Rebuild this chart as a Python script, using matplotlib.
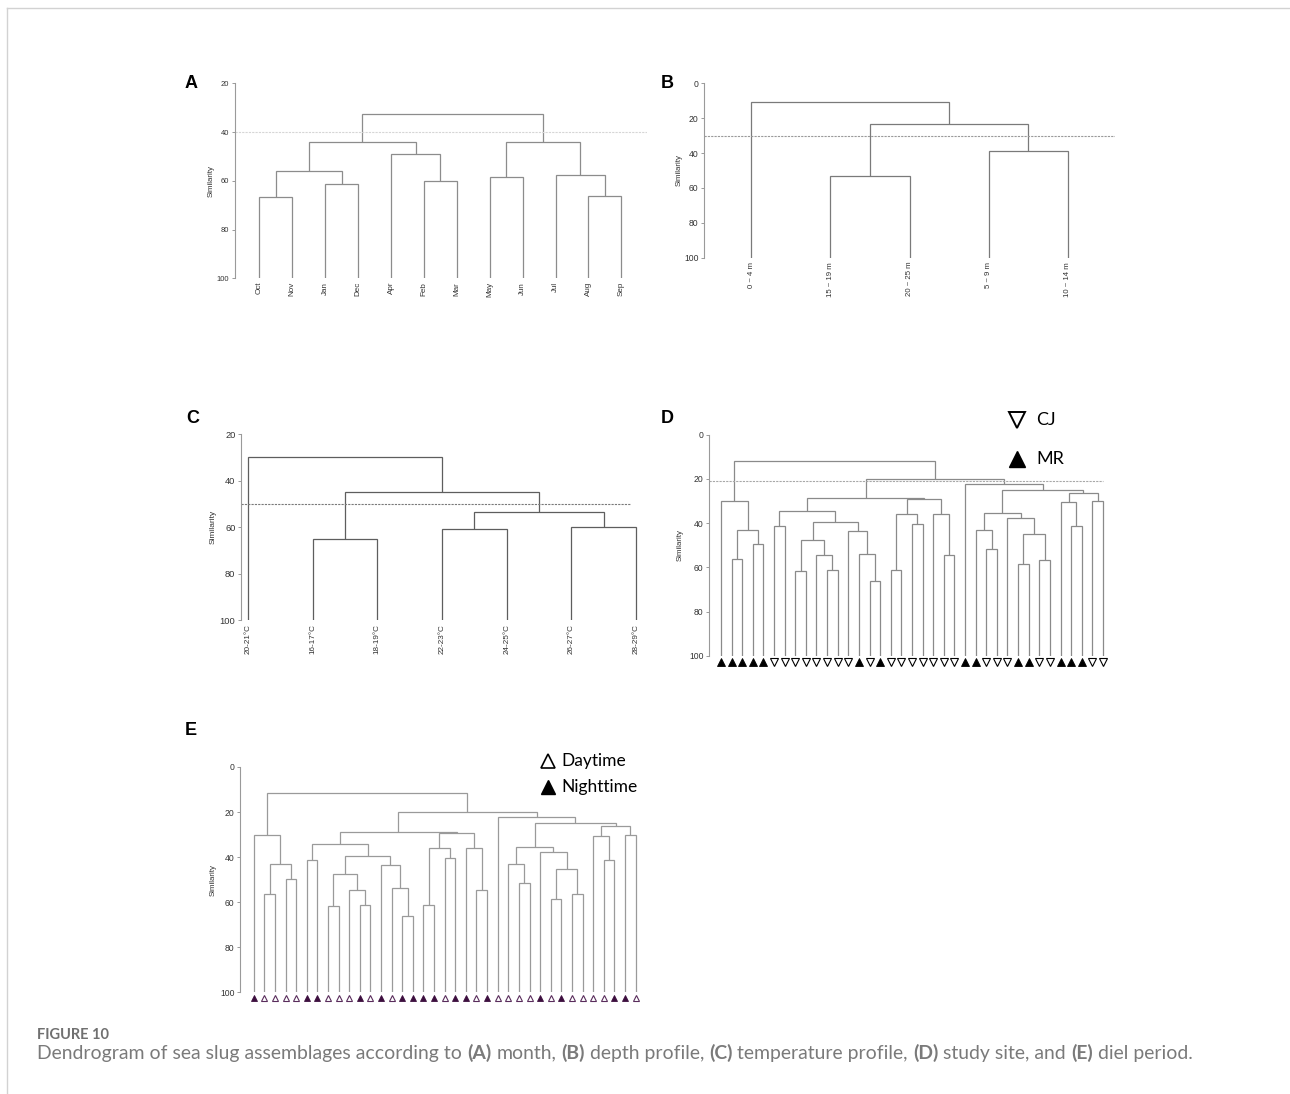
import matplotlib
matplotlib.use('Agg')
import matplotlib.pyplot as plt
from matplotlib.lines import Line2D

plt.rcParams['font.family'] = ['Liberation Sans', 'DejaVu Sans']

# ---------------- data ----------------
# Panel A: month
month_labels = ['Oct', 'Nov', 'Jan', 'Dec', 'Apr', 'Feb', 'Mar', 'May', 'Jun', 'Jul', 'Aug', 'Sep']
# merges: (child a, child b, similarity); ids >= n refer to earlier merges
month_merges = [(0, 1, 66.6), (2, 3, 61.2), (12, 13, 55.8), (5, 6, 59.9), (4, 15, 48.9),
                (14, 16, 44.1), (7, 8, 58.3), (10, 11, 66.1), (9, 19, 57.5), (18, 20, 44.1),
                (17, 21, 32.6)]
month_cut = 40

# Panel B: depth
depth_labels = ['0 ~ 4 m', '15 ~ 19 m', '20 ~ 25 m', '5 ~ 9 m', '10 ~ 14 m']
depth_merges = [(1, 2, 53.3), (3, 4, 38.6), (5, 6, 23.5), (0, 7, 10.5)]
depth_cut = 30

# Panel C: temperature
temp_labels = ['20-21°C', '16-17°C', '18-19°C', '22-23°C', '24-25°C', '26-27°C', '28-29°C']
temp_merges = [(1, 2, 65.2), (3, 4, 60.6), (5, 6, 60.1), (8, 9, 53.3), (7, 10, 44.9), (0, 11, 30.0)]
temp_cut = 50

# Panels D & E: samples (same tree)
sample_merges = [(1, 2, 56.2), (3, 4, 49.6), (37, 38, 42.9), (0, 39, 30.2), (5, 6, 41.4),
                 (7, 8, 61.5), (10, 11, 61.4), (9, 43, 54.4), (42, 44, 47.6), (14, 15, 66.1),
                 (13, 46, 53.8), (12, 47, 43.6), (45, 48, 39.3), (41, 49, 34.3), (16, 17, 61.4),
                 (18, 19, 40.4), (51, 52, 35.9), (21, 22, 54.4), (20, 54, 35.8), (53, 55, 29.1),
                 (50, 56, 28.7), (25, 26, 51.6), (24, 58, 42.9), (28, 29, 58.4), (30, 31, 56.5),
                 (60, 61, 45.1), (27, 62, 37.6), (59, 63, 35.4), (33, 34, 41.3), (32, 65, 30.5),
                 (35, 36, 30.2), (66, 67, 26.3), (64, 68, 24.9), (23, 69, 22.3), (57, 70, 20.1),
                 (40, 71, 11.7)]
site_groups = (['MR'] * 5 + ['CJ'] * 8 + ['MR', 'CJ', 'MR'] + ['CJ'] * 7 + ['MR'] * 2 +
               ['CJ'] * 3 + ['MR'] * 2 + ['CJ'] * 2 + ['MR'] * 3 + ['CJ'] * 2)
site_cut = 21.1
diel_groups = (['N'] + ['D'] * 4 + ['N'] * 2 + ['D'] * 3 + ['N', 'D', 'N', 'D'] + ['N'] * 4 +
               ['D'] + ['N'] * 2 + ['D', 'N'] + ['D'] * 4 + ['N', 'D', 'N'] + ['D'] * 4 +
               ['N'] * 2 + ['D'])

# ---------------- figure ----------------
W, H = 1290, 1094
fig = plt.figure(figsize=(W / 100, H / 100), dpi=100)


def make_ax(x0, x1, ytop, ybot):
    ax = fig.add_axes([x0 / W, 1 - ybot / H, (x1 - x0) / W, (ybot - ytop) / H])
    ax.patch.set_visible(False)
    return ax


def dendro(ax, n, merges, color, lw=0.9):
    pos = [(i, 100.0) for i in range(n)]
    for a, b, h in merges:
        (xa, ya), (xb, yb) = pos[a], pos[b]
        ax.plot([xa, xa, xb, xb], [ya, h, h, yb], color=color, lw=lw,
                solid_joinstyle='miter', solid_capstyle='butt')
        pos.append(((xa + xb) / 2, h))


def style(ax, ytop_val, xlim, tick_fs, ylab_x, x0, x1, ylab_fs=5.7):
    ax.set_ylim(100, ytop_val)
    ax.set_xlim(*xlim)
    for s in ['top', 'right', 'bottom']:
        ax.spines[s].set_visible(False)
    ax.spines['left'].set_color('#9a9a9a')
    ax.spines['left'].set_linewidth(0.8)
    ax.set_yticks(list(range(ytop_val, 101, 20)))
    ax.tick_params(axis='y', length=2.5, width=0.7, color='#9a9a9a',
                   labelsize=tick_fs, labelcolor='#333333', pad=1.5)
    ax.text((ylab_x - x0) / (x1 - x0), 0.5, 'Similarity', transform=ax.transAxes,
            rotation=90, ha='center', va='center', fontsize=ylab_fs, color='#333333')


def leaf_labels(ax, labels, fs, pad):
    ax.set_xticks(range(len(labels)))
    ax.set_xticklabels(labels, rotation=90, fontsize=fs, color='#333333')
    ax.tick_params(axis='x', length=0, pad=pad)


# Panel A
axA = make_ax(235, 646.7, 83.3, 278.3)
dendro(axA, len(month_labels), month_merges, '#8c8c8c')
style(axA, 20, (-0.74, 11.77), 5.5, 210.7, 235, 646.7)
leaf_labels(axA, month_labels, 5.8, 2.5)
axA.axhline(month_cut, color='#d6d6d6', lw=0.8, ls=(0, (2, 1)))

# Panel B
axB = make_ax(704, 1115, 83.3, 257.7)
dendro(axB, len(depth_labels), depth_merges, '#7a7a7a')
style(axB, 0, (-0.6, 4.6), 6.2, 679, 704, 1115)
leaf_labels(axB, depth_labels, 5.6, 3)
axB.axhline(depth_cut, color='#9a9a9a', lw=0.8, ls=(0, (2, 1)))

# Panel C
axC = make_ax(241, 645, 434, 620.3)
dendro(axC, len(temp_labels), temp_merges, '#5e5e5e')
style(axC, 20, (-0.11, 6.14), 6.7, 213.3, 241, 645, ylab_fs=6.0)
leaf_labels(axC, temp_labels, 5.9, 2.5)
axC.hlines(temp_cut, -0.11, 5.93, color='#7a7a7a', lw=0.8, ls=(0, (2, 1)))

# Panel D
axD = make_ax(709, 1110, 434.7, 655.7)
n_s = len(site_groups)
dendro(axD, n_s, sample_merges, '#8a8a8a')
style(axD, 0, (-1.13, 36.66), 6.2, 680, 709, 1110)
axD.set_xticks([])
axD.hlines(site_cut, -1.13, 35.98, color='#a8a8a8', lw=0.8, ls=(0, (2, 1)))
for i, g in enumerate(site_groups):
    if g == 'MR':
        axD.plot(i, 102.8, marker='^', ms=5.2, mfc='black', mec='black', mew=0.6, clip_on=False)
    else:
        axD.plot(i, 102.8, marker='v', ms=5.2, mfc='white', mec='black', mew=0.8, clip_on=False)

# Panel E
axE = make_ax(240.3, 645, 767, 992.3)
dendro(axE, len(diel_groups), sample_merges, '#9a9a9a')
style(axE, 0, (-1.26, 36.88), 6.2, 213, 240.3, 645)
axE.set_xticks([])
purple = '#3d0f3f'
for i, g in enumerate(diel_groups):
    if g == 'N':
        axE.plot(i, 102.7, marker='^', ms=4.6, mfc=purple, mec=purple, mew=0.6, clip_on=False)
    else:
        axE.plot(i, 102.7, marker='^', ms=4.6, mfc='white', mec='#5a2d5c', mew=0.8, clip_on=False)

# Panel letters
for letter, (px, py) in zip('ABCDE', [(190.7, 84), (667, 84), (193, 419), (667, 419), (190.7, 730.7)]):
    fig.text(px / W, 1 - py / H, letter, fontsize=13, weight='bold', ha='center', va='center',
             color='black')


# Legends
def fig_marker(px, py, marker, ms, fc, ec, mew):
    fig.add_artist(Line2D([px / W], [1 - py / H], transform=fig.transFigure, marker=marker,
                          ms=ms, mfc=fc, mec=ec, mew=mew, ls='none'))


fig_marker(1016.7, 420, 'v', 12, 'white', 'black', 1.4)
fig.text(1036 / W, 1 - 420 / H, 'CJ', fontsize=13, family='Lato', va='center', color='black')
fig_marker(1016.7, 459, '^', 12, 'black', 'black', 1.0)
fig.text(1036 / W, 1 - 459 / H, 'MR', fontsize=13, family='Lato', va='center', color='black')

fig_marker(548.3, 761, '^', 9.5, 'white', 'black', 1.2)
fig.text(561.7 / W, 1 - 761 / H, 'Daytime', fontsize=12.5, family='Lato', va='center', color='black')
fig_marker(548.3, 787, '^', 9.5, 'black', 'black', 1.0)
fig.text(561.7 / W, 1 - 787 / H, 'Nighttime', fontsize=12.5, family='Lato', va='center', color='black')

# Frame lines
fig.add_artist(Line2D([7 / W, 1], [1 - 8 / H, 1 - 8 / H], transform=fig.transFigure,
                      color='#d2d2d2', lw=1.0))
fig.add_artist(Line2D([7 / W, 7 / W], [1 - 8 / H, 0], transform=fig.transFigure,
                      color='#d2d2d2', lw=1.0))

# Caption
fig.text(37 / W, 1 - 1035 / H, 'FIGURE 10', fontsize=10.5, weight='bold', family='Lato',
         color='#707070', va='center')

renderer = fig.canvas.get_renderer()
CAP_FS = 13.95


def text_w(s, bold, fs=CAP_FS):
    t = fig.text(0, 0, s, fontsize=fs, family='Lato', weight='bold' if bold else 'normal')
    w = t.get_window_extent(renderer).width
    t.remove()
    return w


space_w = text_w('x x', False) - text_w('xx', False)
pieces = [("Dendrogram of sea slug assemblages according to ", False), ("(A)", True),
          (" month, ", False), ("(B)", True), (" depth profile, ", False), ("(C)", True),
          (" temperature profile, ", False), ("(D)", True), (" study site, and ", False),
          ("(E)", True), (" diel period.", False)]
x = 37.0
for s, bold in pieces:
    lead = len(s) - len(s.lstrip(' '))
    trail = len(s) - len(s.rstrip(' '))
    core = s.strip(' ')
    x += lead * space_w
    fig.text(x / W, 1 - 1053 / H, core, fontsize=CAP_FS, family='Lato',
             weight='bold' if bold else 'normal', color='#7a7a7a', va='center')
    x += text_w(core, bold) + trail * space_w

fig.savefig('out.png', dpi=100)
